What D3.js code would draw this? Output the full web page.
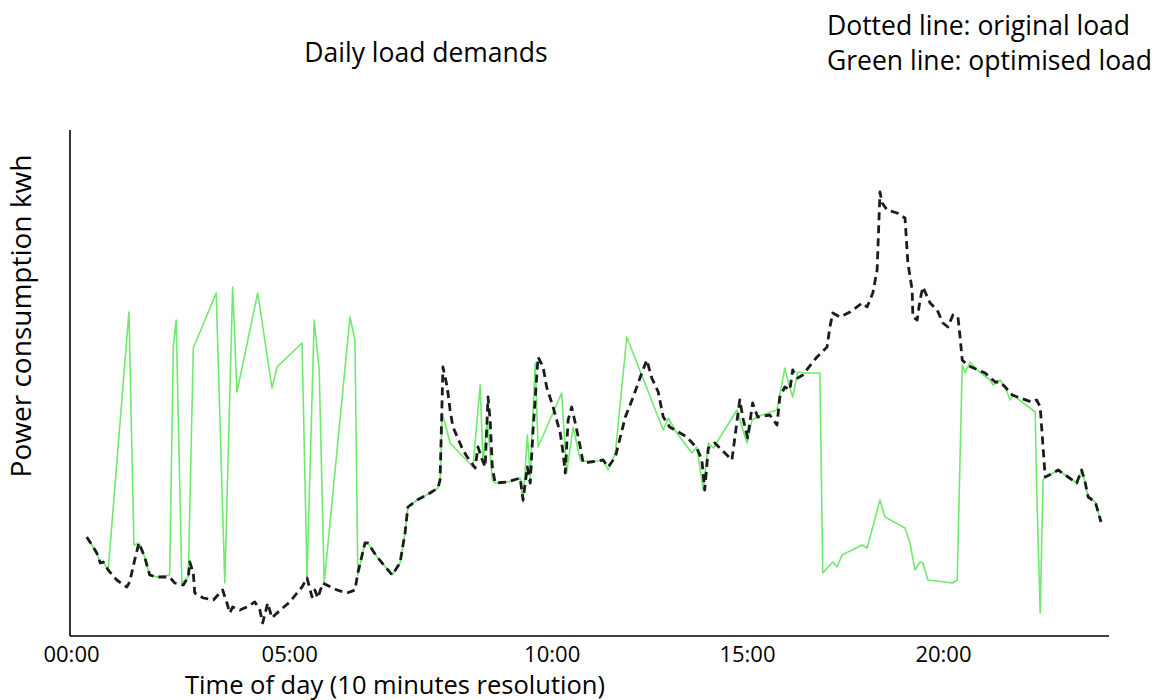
<!DOCTYPE html>
<html><head><meta charset="utf-8">
<script src="https://cdn.jsdelivr.net/npm/d3@7/dist/d3.min.js"></script>
<style>
body{margin:0;background:#fff}
text{font-family:"Open Sans",sans-serif;fill:#000}
</style>
</head><body>
<svg id="chart" width="1168" height="700"></svg>
<script>
// Time in minutes since midnight, load in arbitrary kWh-scale units
const origTime = [22,31,36,41,45,52,64,78,82,89,
  95,103,110,120,138,145,157,164,166,171,
  173,185,199,212,218,222,226,236,246,257,
  264,268,275,281,285,296,306,316,323,330,
  337,341,345,352,372,386,397,401,411,415,
  428,449,460,467,471,484,502,513,516,520,
  526,530,534,548,554,565,569,575,579,583,
  586,589,593,610,628,632,638,642,646,653,
  660,665,674,684,688,691,695,700,705,712,
  716,726,744,751,761,768,775,786,798,805,
  812,821,828,837,861,875,882,886,891,900,
  924,935,940,946,953,960,977,987,991,998,
  1005,1009,1016,1023,1036,1043,1057,1061,1065,1075,
  1089,1106,1113,1121,1127,1131,1134,1141,1155,1166,
  1170,1176,1177,1183,1187,1191,1201,1211,1219,1226,
  1233,1240,1243,1246,1253,1268,1278,1292,1299,1306,
  1316,1327,1343,1350,1355,1362,1373,1380,1394,1406,
  1413,1418,1422,1432,1440];
const origLoad = [19.8,17.8,16.6,14.6,14.8,13.2,11.2,9.8,10.8,15.2,
  18.6,15.8,12.2,11.8,11.8,10.6,10.2,11.8,14.8,12.6,
  8.6,7.6,7.2,9.2,6.6,4.6,5.8,5.2,5.8,6.8,
  5.2,2.6,6.6,3.6,4.2,5.6,6.8,8.6,9.8,11.6,
  7.8,9.2,7.6,10.6,9.2,8.6,9.2,12.6,18.6,18.6,
  15.8,12.2,14.6,20.6,25.8,27.2,28.6,29.6,31.2,53.8,
  49.8,45.2,41.8,37.2,35.8,33.6,37.8,35.2,33.8,47.8,
  43.2,33.8,30.6,30.8,31.6,27.2,33.8,30.6,41.2,55.8,
  53.8,49.8,45.8,40.6,36.6,32.6,43.2,45.8,42.6,37.8,
  34.6,34.8,35.2,33.8,35.8,39.8,43.8,47.8,52.6,55.2,
  51.6,48.8,43.8,41.8,39.8,37.6,35.2,29.2,37.6,38.6,
  35.2,47.2,43.2,39.6,46.6,43.8,44.2,42.2,47.8,49.8,
  49.2,53.2,51.6,52.2,54.6,55.8,57.8,61.8,64.6,63.8,
  64.8,66.6,65.8,68.6,73.2,88.8,86.6,85.2,84.6,83.6,
  74.6,69.2,63.8,63.2,67.2,69.8,66.6,65.2,62.6,61.8,
  64.2,63.8,59.8,55.2,54.2,53.2,52.6,50.8,50.8,49.8,
  48.2,47.6,46.8,47.2,45.8,31.8,32.6,33.2,31.8,30.6,
  33.2,30.6,27.8,26.8,22.8];

const optTime = [22,31,36,41,45,52,81,88,95,103,
  110,120,138,143,147,155,164,171,203,215,
  226,232,261,281,288,323,330,340,347,354,
  390,397,401,411,415,428,449,460,467,471,
  484,502,513,516,519,530,562,572,576,582,
  589,593,610,628,632,638,642,649,653,686,
  693,702,712,726,744,751,761,777,828,835,
  847,868,875,884,891,898,931,945,952,966,
  987,998,1005,1009,1016,1026,1047,1051,1065,1071,
  1078,1106,1113,1131,1138,1166,1173,1180,1187,1191,
  1198,1232,1239,1246,1250,1257,1267,1285,1289,1299,
  1306,1313,1317,1348,1350,1355,1359,1362,1373,1380,
  1394,1406,1413,1418,1422,1432,1440];
const optLoad = [19.8,17.8,16.6,14.6,14.8,13.2,64.8,18.2,18.6,15.8,
  12.2,11.8,12.2,57.8,63.2,10.6,11.8,57.6,68.6,10.6,
  69.8,48.8,68.6,49.6,53.8,58.6,11.8,63.2,53.2,10.6,
  63.8,59.2,12.2,18.6,18.6,15.8,12.2,14.6,20.6,25.8,
  27.2,28.6,29.6,31.2,44.6,38.6,33.8,50.2,34.6,43.2,
  31.2,30.6,30.8,31.6,26.8,40.2,31.8,54.6,37.8,48.6,
  32.6,41.8,35.2,34.8,35.2,33.2,36.6,59.8,41.2,43.6,
  40.6,36.6,37.8,29.2,38.6,37.6,45.2,38.6,43.2,44.2,
  45.2,53.6,49.6,47.8,52.8,52.6,52.6,12.6,14.8,13.8,
  16.2,18.2,17.6,27.2,23.8,21.6,18.6,13.2,14.8,14.6,
  11.2,10.6,11.2,54.2,52.6,54.8,53.2,51.2,50.2,51.2,
  49.8,47.2,48.2,44.8,29.8,4.6,31.2,31.8,32.6,33.2,
  31.8,30.6,33.2,30.6,27.8,26.8,22.8];

const tickMinutes = [0,305,672,945,1219];
const tickLabels = ["00:00","05:00","10:00","15:00","20:00"];

const title = "Daily load demands";
const legendLines = ["Dotted line: original load","Green line: optimised load"];
const xTitle = "Time of day (10 minutes resolution)";
const yTitle = "Power consumption kwh";

// layout
const axisLeft = 70, axisRight = 1109, axisBottom = 636, axisTop = 130;

const svg = d3.select("#chart");
const x = d3.scaleLinear().domain([0,1440]).range([71,1101]);
const y = d3.scaleLinear().domain([0,101.2]).range([axisBottom, axisTop]);

// axes lines
svg.append("line").attr("x1",axisLeft).attr("x2",axisLeft).attr("y1",axisTop).attr("y2",axisBottom)
  .attr("stroke","#000").attr("stroke-width",1.6);
svg.append("line").attr("x1",axisLeft).attr("x2",axisRight).attr("y1",axisBottom).attr("y2",axisBottom)
  .attr("stroke","#000").attr("stroke-width",1.6);

// x axis tick labels via d3 axis
const xAxis = d3.axisBottom(x).tickValues(tickMinutes)
  .tickFormat((d,i)=>tickLabels[i]).tickSize(0).tickPadding(0);
const gx = svg.append("g").attr("transform",`translate(0,${axisBottom})`).call(xAxis);
gx.select(".domain").remove();
gx.selectAll("text").attr("font-family","Open Sans").attr("font-size",22).attr("fill","#000")
  .attr("dy",null).attr("y",26);

const line = d3.line().x(d=>x(d[0])).y(d=>y(d[1]));

svg.append("path").datum(d3.zip(optTime,optLoad)).attr("d",line)
  .attr("fill","none").attr("stroke","#6fea6f").attr("stroke-width",1.6).attr("stroke-linejoin","round");

svg.append("path").datum(d3.zip(origTime,origLoad)).attr("d",line)
  .attr("fill","none").attr("stroke","#1c1c1c").attr("stroke-width",2.8)
  .attr("stroke-dasharray","8,5").attr("stroke-linejoin","round");

// texts
svg.append("text").attr("x",426).attr("y",62).attr("text-anchor","middle").attr("font-size",26.5).text(title);
svg.selectAll(".leg").data(legendLines).enter().append("text")
  .attr("x",827).attr("y",(d,i)=>35+i*35).attr("font-size",26.5).text(d=>d);
svg.append("text").attr("x",395).attr("y",694).attr("text-anchor","middle").attr("font-size",25.5).text(xTitle);
svg.append("text").attr("transform","translate(31,316) rotate(-90)").attr("text-anchor","middle")
  .attr("font-size",28).text(yTitle);
</script>
</body></html>
